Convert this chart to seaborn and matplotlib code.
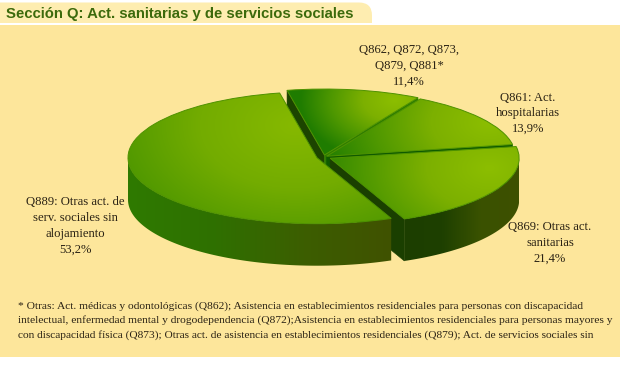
import numpy as np
import matplotlib
matplotlib.use("Agg")
import matplotlib.pyplot as plt
from matplotlib.patches import Polygon, FancyBboxPatch, Rectangle
import seaborn as sns

sns.set_theme(style="white")

# ---- data ----
categories = ["Q889", "Q869", "Q861", "Q862+"]
values = [53.2, 21.4, 13.9, 11.4]
label_lines = [
    ["Q889: Otras act. de", "serv. sociales sin", "alojamiento", "53,2%"],
    ["Q869: Otras act.", "sanitarias", "21,4%"],
    ["Q861: Act.", "hospitalarias", "13,9%"],
    ["Q862, Q872, Q873,", "Q879, Q881*", "11,4%"],
]
title = "Sección Q: Act. sanitarias y de servicios sociales"
footnote = [
    "* Otras: Act. médicas y odontológicas (Q862); Asistencia en establecimientos residenciales para personas con discapacidad",
    "intelectual, enfermedad mental y drogodependencia (Q872);Asistencia en establecimientos residenciales para personas mayores y",
    "con discapacidad física (Q873); Otras act. de asistencia en establecimientos residenciales (Q879); Act. de servicios sociales sin",
]
explode = [0.036, 0.04, 0.02, 0.03]

W, H = 620, 368
RX, RY, CX, CY = 189.0, 66.0, 323.5, 157.0
DEPTH = 42 / RY
START = 101.4

fig = plt.figure(figsize=(W / 100, H / 100), dpi=100, facecolor="white")

# background panels in pixel coordinates
bg = fig.add_axes([0, 0, 1, 1], zorder=0)
bg.set_xlim(0, W); bg.set_ylim(H, 0); bg.axis("off")
bg.add_patch(FancyBboxPatch((-20, 2.5), 392, 40, boxstyle="round,pad=0,rounding_size=13",
                            fc="#FEEDB0", ec="none"))
bg.add_patch(Rectangle((0, 22.5), W, 3, fc="white", ec="none", zorder=2))
bg.add_patch(Rectangle((0, 24.5), W, 332, fc="#FDE69B", ec="none", zorder=3))

ax = fig.add_axes([0, 0, 1, 1], zorder=1)
ax.patch.set_alpha(0)
xlim = (-CX / RX, (W - CX) / RX)
ylim = ((CY - H) / RY, CY / RY)

lime = sns.blend_palette(["#8CBE00", "#7CB000", "#4F9800", "#1F7C00"], as_cmap=True)
big_map = sns.blend_palette(["#86B900", "#73AC00", "#4C9600"], as_cmap=True)
side_big = sns.blend_palette(["#2E7A00", "#2F7000", "#3C5E00", "#405200"], as_cmap=True)
side_869 = sns.blend_palette(["#1C3E00", "#1E4000", "#3A5200", "#3E5000"], as_cmap=True)

wedges, _ = ax.pie(values, explode=explode, startangle=START, counterclock=True,
                   radius=1, colors=["#6aa800"] * 4,
                   wedgeprops=dict(edgecolor="#4E9200", linewidth=0.7))


def px_grid():
    xs = np.linspace(xlim[0], xlim[1], W)
    ys = np.linspace(ylim[1], ylim[0], H)
    return np.meshgrid(xs, ys)


def radial_fill(patch, focus, radius, cmap, z):
    X, Y = px_grid()
    PX = X * RX + CX
    PY = CY - Y * RY
    d = np.hypot(PX - focus[0], (PY - focus[1]) * 1.5) / radius
    im = ax.imshow(np.clip(d, 0, 1), extent=(*xlim, *ylim), cmap=cmap, vmin=0, vmax=1,
                   origin="upper", zorder=z, interpolation="bilinear")
    im.set_clip_path(patch)


def side_fill(poly, x0, x1, cmap, z):
    ax.add_patch(poly)
    grad = np.linspace(0, 1, 200).reshape(1, -1)
    im = ax.imshow(grad, extent=(x0, x1, ylim[0], ylim[1]), cmap=cmap, aspect="auto", zorder=z)
    im.set_clip_path(poly)


# geometry from the values
fr = np.array(values) / np.sum(values) * 360
a1 = START + np.r_[0, np.cumsum(fr)[:-1]]
a2 = a1 + fr
mid = np.deg2rad((a1 + a2) / 2)
offx = np.array(explode) * np.cos(mid)
offy = np.array(explode) * np.sin(mid)


def pt(i, a):
    r = np.deg2rad(a)
    return offx[i] + np.cos(r), offy[i] + np.sin(r)


def cut_face(i, a, color, z):
    x, y = pt(i, a)
    ox, oy = offx[i], offy[i]
    ax.add_patch(Polygon([(ox, oy), (x, y), (x, y - DEPTH), (ox, oy - DEPTH)],
                         closed=True, fc=color, ec=color, lw=0.4, zorder=z))


def rim(i, a_start, a_end, cmap, z):
    ang = np.deg2rad(np.linspace(a_start, a_end, 120))
    x = offx[i] + np.cos(ang)
    y = offy[i] + np.sin(ang)
    verts = np.r_[np.c_[x, y], np.c_[x[::-1], y[::-1] - DEPTH]]
    poly = Polygon(verts, closed=True, fc="none", ec="none", zorder=z)
    side_fill(poly, x.min(), x.max(), cmap, z)


# draw back to front: Q862, Q861, Q869, Q889
cut_face(3, a2[3], "#1C4400", 2)   # left cut of Q862 (dark)
cut_face(3, a1[3], "#2E7D00", 2)   # right cut of Q862 (bright)
radial_fill(wedges[3], (395, 100), 95, lime, 3)
wedges[3].set_zorder(3.1); wedges[3].set_facecolor("none")

cut_face(2, a1[2], "#0F5A00", 4)
radial_fill(wedges[2], (490, 122), 175, lime, 5)
wedges[2].set_zorder(5.1); wedges[2].set_facecolor("none")

rim(1, a1[1], 360, side_869, 6)
cut_face(1, a1[1], "#1A3F00", 6.5)
radial_fill(wedges[1], (490, 168), 190, lime, 7)
wedges[1].set_zorder(7.1); wedges[1].set_facecolor("none")

rim(0, 180, a2[0], side_big, 8)
radial_fill(wedges[0], (295, 125), 190, big_map, 9)
wedges[0].set_zorder(9.1); wedges[0].set_facecolor("none")

ax.set_aspect("auto")
ax.set_xlim(*xlim)
ax.set_ylim(*ylim)
ax.axis("off")


def ftext(px, py, s, **kw):
    fig.text(px / W, 1 - py / H, s, va="center", **kw)


serif = ["Liberation Serif", "DejaVu Serif"]
ftext(6, 14, title, family=["Liberation Sans"], fontsize=10.7, fontweight="bold",
      color="#3C6A0C", ha="left")

centres = [(75, [202, 218, 234, 250]), (550, [227, 243, 259]),
           (528, [98, 113, 129]), (409, [50, 66, 82])]
for (cx, ys), lines in zip(centres, label_lines):
    for y, line in zip(ys, lines):
        ftext(cx, y, line, family=serif, fontsize=9.1, color="#2A2214", ha="center")

for y, line, fs in zip([306, 320, 335], footnote, [8.28, 8.28, 8.2]):
    ftext(18, y, line, family=serif, fontsize=fs, color="#2A2214", ha="left")

fig.savefig("out.png", dpi=100, facecolor="white")
